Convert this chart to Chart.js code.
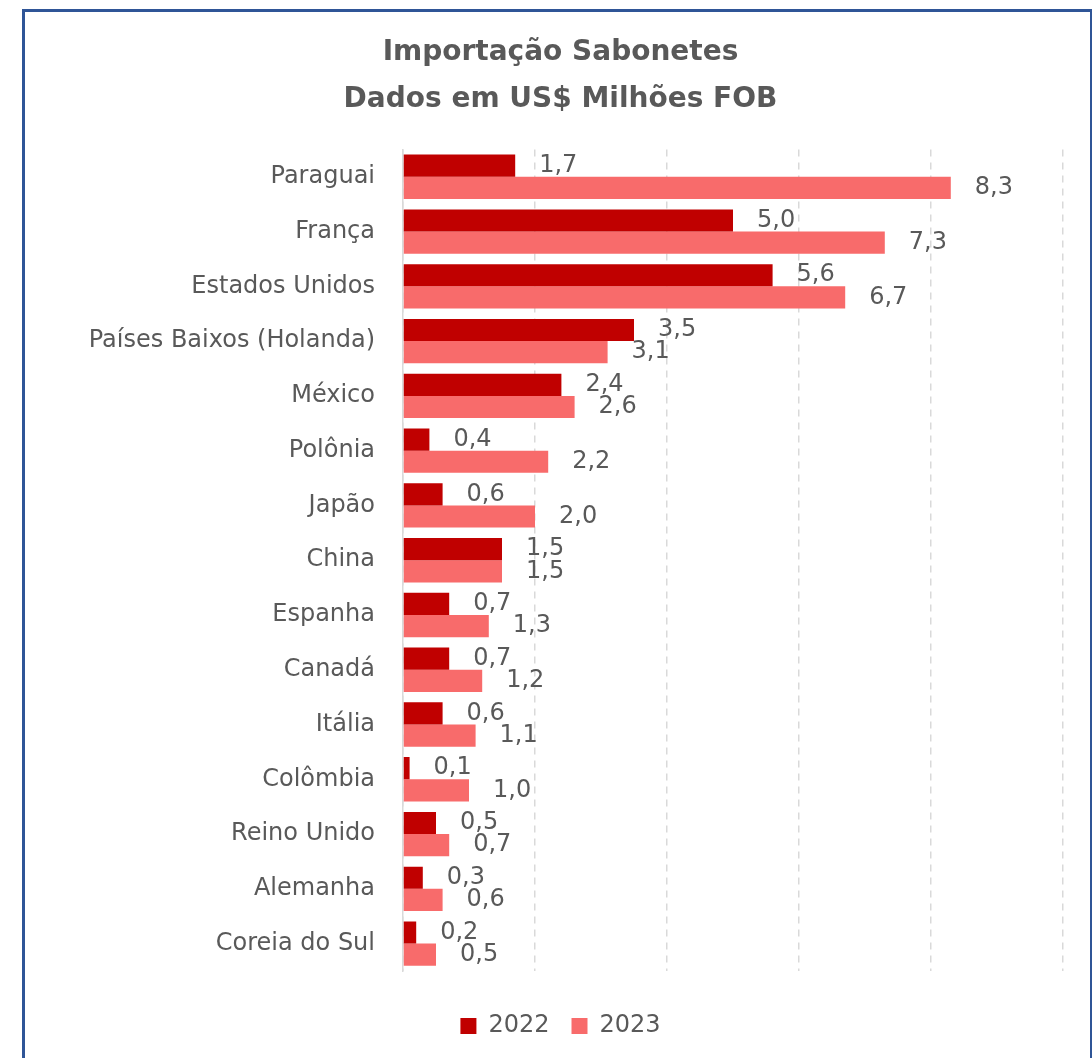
<!DOCTYPE html>
<html>
<head>
<meta charset="utf-8">
<script src="https://cdn.jsdelivr.net/npm/chart.js@4"></script>
<style>
  html, body { margin: 0; padding: 0; background: #fff; }
  #wrap { position: absolute; left: 0; top: 0; width: 1092px; height: 1058px; }
  #frame { position: absolute; left: 22px; top: 9px; width: 1065px; height: 1080px;
           border: 3px solid #2F5597; pointer-events: none; }
</style>
</head>
<body>
<div id="wrap">
  <canvas id="myChart" width="1092" height="1058"></canvas>
  <div id="frame"></div>
</div>
<script>
const paises = ['Paraguai', 'França', 'Estados Unidos', 'Países Baixos (Holanda)', 'México',
  'Polônia', 'Japão', 'China', 'Espanha', 'Canadá', 'Itália', 'Colômbia', 'Reino Unido',
  'Alemanha', 'Coreia do Sul'];
const valores2022 = [1.7, 5.0, 5.6, 3.5, 2.4, 0.4, 0.6, 1.5, 0.7, 0.7, 0.6, 0.1, 0.5, 0.3, 0.2];
const valores2023 = [8.3, 7.3, 6.7, 3.1, 2.6, 2.2, 2.0, 1.5, 1.3, 1.2, 1.1, 1.0, 0.7, 0.6, 0.5];
const titulo = ['Importação Sabonetes', 'Dados em US$ Milhões FOB'];

const fonte = 'DejaVu Sans';
const cinza = '#595959';

// rotulos de valor ao lado das barras
const rotulos = {
  id: 'rotulos',
  afterDatasetsDraw(chart) {
    const ctx = chart.ctx;
    ctx.save();
    ctx.font = '24px "' + fonte + '"';
    ctx.fillStyle = cinza;
    ctx.textAlign = 'left';
    ctx.textBaseline = 'middle';
    chart.data.datasets.forEach((ds, i) => {
      chart.getDatasetMeta(i).data.forEach((bar, j) => {
        const txt = ds.data[j].toFixed(1).replace('.', ',');
        ctx.fillText(txt, bar.x + 24, bar.y);
      });
    });
    ctx.restore();
  }
};

const ctx = document.getElementById('myChart');
new Chart(ctx, {
  type: 'bar',
  data: {
    labels: paises,
    datasets: [{
      label: '2022',
      data: valores2022,
      backgroundColor: '#C00000',
      categoryPercentage: 0.81,
      barPercentage: 1.0
    }, {
      label: '2023',
      data: valores2023,
      backgroundColor: '#F86B6B',
      categoryPercentage: 0.81,
      barPercentage: 1.0
    }]
  },
  options: {
    indexAxis: 'y',
    responsive: false,
    animation: false,
    layout: { padding: { left: 58, right: 29, top: 30, bottom: 10 } },
    scales: {
      x: {
        min: 0,
        max: 10,
        afterFit: (scale) => { scale.height = 21; },
        ticks: { display: false, stepSize: 2 },
        grid: { color: '#D9D9D9', lineWidth: 1.5, drawTicks: false },
        border: { display: false, dash: [7, 6] }
      },
      y: {
        afterFit: (scale) => { scale.width = 345; },
        ticks: { color: cinza, font: { family: fonte, size: 24 }, padding: 28 },
        grid: { display: false, drawTicks: false },
        border: { color: '#D9D9D9', width: 1.5 }
      }
    },
    plugins: {
      title: {
        display: true,
        text: titulo,
        color: cinza,
        font: { family: fonte, size: 28, weight: 'bold', lineHeight: 1.65 },
        padding: { top: 0, bottom: 27 }
      },
      legend: {
        position: 'bottom',
        labels: {
          color: cinza,
          font: { family: fonte, size: 24 },
          boxWidth: 16,
          boxHeight: 16,
          padding: 22
        }
      },
      tooltip: { enabled: false }
    }
  },
  plugins: [rotulos]
});
</script>
</body>
</html>
